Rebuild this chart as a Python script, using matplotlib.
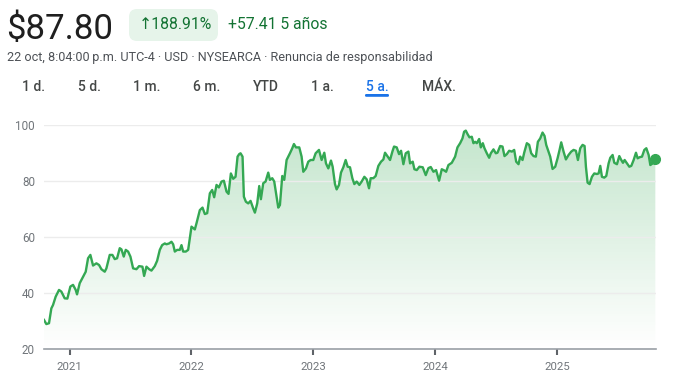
import numpy as np
import pandas as pd
import matplotlib
matplotlib.use("Agg")
import matplotlib.pyplot as plt
from matplotlib.patches import FancyBboxPatch, Polygon
from matplotlib.colors import LinearSegmentedColormap
from matplotlib.transforms import IdentityTransform
import matplotlib.dates as mdates

# ---------------- data ----------------
days_since_2021 = [
    -77, -70, -62, -55, -50, -42, -32, -25, -15, -7,
    2, 10, 18, 22, 30, 40, 48, 55, 62, 70,
    80, 88, 95, 105, 110, 120, 128, 135, 142, 150,
    155, 162, 168, 175, 182, 190, 200, 208, 218, 223,
    230, 238, 245, 255, 262, 270, 277, 285, 290, 298,
    305, 310, 315, 322, 330, 335, 340, 348, 355, 365,
    375, 380, 390, 398, 405, 412, 420, 427, 433, 440,
    447, 455, 462, 470, 476, 483, 490, 497, 503, 508,
    512, 518, 522, 528, 535, 542, 550, 555, 562, 568,
    573, 580, 587, 595, 600, 607, 613, 620, 625, 630,
    637, 643, 650, 660, 667, 672, 678, 688, 695, 700,
    708, 715, 722, 730, 737, 747, 755, 763, 768, 775,
    783, 788, 795, 800, 807, 813, 820, 827, 833, 840,
    847, 853, 860, 868, 875, 883, 890, 897, 902, 910,
    917, 925, 933, 940, 945, 953, 960, 967, 972, 980,
    987, 993, 1000, 1007, 1015, 1020, 1028, 1033, 1040, 1048,
    1058, 1067, 1075, 1082, 1090, 1098, 1107, 1115, 1122, 1128,
    1135, 1145, 1155, 1162, 1170, 1177, 1182, 1187, 1192, 1198,
    1205, 1210, 1215, 1220, 1227, 1232, 1238, 1243, 1250, 1257,
    1262, 1270, 1277, 1282, 1290, 1297, 1303, 1310, 1317, 1325,
    1332, 1338, 1345, 1350, 1357, 1362, 1370, 1377, 1383, 1390,
    1397, 1403, 1410, 1417, 1423, 1428, 1435, 1440, 1447, 1455,
    1462, 1468, 1473, 1480, 1487, 1495, 1503, 1510, 1517, 1523,
    1530, 1537, 1543, 1547, 1552, 1558, 1565, 1572, 1580, 1585,
    1590, 1595, 1602, 1608, 1615, 1620, 1627, 1632, 1640, 1647,
    1652, 1658, 1663, 1670, 1677, 1683, 1690, 1697, 1702, 1708,
    1715, 1722, 1728, 1735, 1740, 1747, 1755,
]
prices = [
    30.39, 28.9, 29.2, 34.5, 35.7, 38.7, 41.1, 40.5, 38.1, 38.0,
    42.3, 42.9, 41.1, 39.5, 43.5, 45.8, 47.6, 52.4, 53.6, 49.8,
    50.6, 50.0, 48.5, 47.6, 48.8, 53.6, 53.6, 52.1, 52.4, 56.0,
    55.6, 53.0, 55.4, 54.8, 53.0, 48.8, 48.5, 49.6, 49.4, 46.1,
    49.4, 48.5, 48.0, 49.6, 51.5, 55.4, 57.1, 57.7, 57.4, 57.7,
    58.3, 57.4, 54.8, 55.4, 55.4, 57.1, 54.8, 54.8, 55.4, 63.7,
    62.7, 64.9, 69.6, 70.5, 68.2, 68.5, 75.6, 76.8, 74.2, 78.6,
    77.7, 79.8, 80.1, 76.2, 75.4, 82.7, 80.8, 81.5, 88.7, 89.6,
    89.9, 88.7, 74.4, 72.6, 72.0, 72.9, 70.2, 68.7, 72.0, 78.2,
    73.5, 79.2, 79.8, 83.0, 80.4, 81.0, 79.8, 74.4, 70.5, 71.4,
    81.8, 80.4, 87.5, 89.9, 91.7, 93.2, 92.0, 92.0, 88.7, 83.3,
    84.5, 86.9, 87.5, 87.5, 89.9, 91.1, 87.5, 90.1, 86.3, 84.5,
    87.3, 85.1, 78.9, 77.0, 78.6, 83.0, 84.9, 87.5, 85.1, 84.9,
    81.0, 78.9, 79.8, 78.6, 79.8, 81.5, 80.6, 77.4, 81.0, 81.0,
    81.8, 85.4, 86.9, 87.7, 90.1, 88.7, 87.5, 90.5, 92.3, 92.0,
    89.6, 90.8, 86.0, 89.9, 90.5, 86.3, 86.9, 84.2, 83.9, 85.1,
    84.9, 82.1, 84.6, 85.0, 83.3, 83.9, 80.1, 84.2, 83.8, 83.3,
    85.7, 86.5, 88.7, 92.0, 93.5, 95.2, 97.6, 98.0, 96.8, 95.6,
    95.8, 93.5, 94.0, 93.5, 95.0, 92.0, 93.5, 91.7, 89.9, 88.3,
    89.9, 91.3, 89.9, 90.1, 92.5, 92.3, 88.9, 89.6, 90.8, 90.5,
    91.1, 86.9, 86.0, 88.7, 87.5, 90.1, 93.5, 92.9, 89.9, 88.9,
    88.7, 94.0, 95.2, 97.3, 96.1, 92.9, 90.5, 88.7, 84.3, 85.1,
    88.1, 91.1, 93.8, 90.5, 87.7, 89.3, 90.5, 91.1, 90.8, 87.5,
    91.7, 92.9, 92.5, 85.1, 79.4, 78.9, 81.5, 82.7, 82.5, 82.7,
    85.4, 81.5, 81.2, 81.8, 86.3, 88.3, 89.3, 86.5, 86.0, 88.9,
    87.7, 86.5, 87.5, 86.3, 85.1, 85.4, 87.5, 90.1, 88.1, 88.5,
    88.7, 91.1, 91.7, 89.3, 85.7, 86.3, 87.80,
]
y_ticks = [20, 40, 60, 80, 100]
x_tick_years = ["2021", "2022", "2023", "2024", "2025"]
price_text = "$87.80"
change_pct_text = "\u2191188.91%"
change_abs_text = "+57.41 5 años"
subtitle_text = "22 oct, 8:04:00\u2009p.m. UTC-4 · USD · NYSEARCA · Renuncia de responsabilidad"
tabs = ["1 d.", "5 d.", "1 m.", "6 m.", "YTD", "1 a.", "5 a.", "MÁX."]
active_tab = "5 a."

assert len(days_since_2021) == len(prices)

base = pd.Timestamp("2021-01-01")
dates = base + pd.to_timedelta(days_since_2021, unit="D")
xnum = mdates.date2num(dates)

# ---------------- figure ----------------
W, H = 674, 385
plt.rcParams["font.family"] = ["Roboto", "DejaVu Sans"]
fig = plt.figure(figsize=(W / 100, H / 100), dpi=100)
fig.patch.set_facecolor("white")

GREEN = "#34a853"
DKGREEN = "#137333"

def ftext(x, y, s, **kw):
    return fig.text(x / W, 1 - y / H, s, **kw)

# Header
ftext(6, 39.5, price_text, fontsize=25, color="#1f1f1f", va="baseline", ha="left")
pill = FancyBboxPatch((129, H - 41), 89, 32, boxstyle="round,pad=0,rounding_size=8",
                      transform=IdentityTransform(), facecolor="#e6f4ea", edgecolor="none")
fig.add_artist(pill)
ftext(175.5, 29.3, change_pct_text, fontsize=11.3, color=DKGREEN, va="baseline", ha="center",
      family=["Roboto", "DejaVu Sans"])
ftext(228, 29.3, change_abs_text, fontsize=11.3, color=DKGREEN, va="baseline", ha="left")
ftext(7, 61.5, subtitle_text, fontsize=9.1, color="#4d5156", va="baseline", ha="left",
      family=["Roboto", "DejaVu Sans"])

tab_centers = [34, 89.5, 146.5, 206.5, 266, 322, 377, 439]
for t, cx in zip(tabs, tab_centers):
    col = "#1a73e8" if t == active_tab else "#444746"
    ftext(cx, 90.7, t, fontsize=10, color=col, va="baseline", ha="center", fontweight="medium")
    if t == active_tab:
        ul = FancyBboxPatch((cx - 12, H - 96.8), 24, 2.8, boxstyle="round,pad=0,rounding_size=1.3",
                            transform=IdentityTransform(), facecolor="#1a73e8", edgecolor="none")
        fig.add_artist(ul)

# Chart axes
L, R, T, B = 44, 656, 125, 349
ax = fig.add_axes([L / W, (H - B) / H, (R - L) / W, (B - T) / H])
ax.set_facecolor("none")
xmin = mdates.date2num(base + pd.Timedelta(days=-77))
xmax = mdates.date2num(base + pd.Timedelta(days=1757))
ax.set_xlim(xmin, xmax)
ax.set_ylim(20, 100)

# gridlines
for v in y_ticks[1:]:
    ax.axhline(v, color="#ececec", lw=1.0, zorder=2)

# gradient fill
cmap = LinearSegmentedColormap.from_list(
    "g", [(0.204, 0.659, 0.325, 0.0), (0.204, 0.659, 0.325, 0.30)])
grad = np.linspace(0, 1, 256).reshape(-1, 1)
im = ax.imshow(grad, extent=[xmin, xmax, 20, 100], origin="lower", aspect="auto",
               cmap=cmap, zorder=1, interpolation="bilinear")
verts = [(xnum[0], 20)] + list(zip(xnum, prices)) + [(xnum[-1], 20)]
poly = Polygon(verts, closed=True, transform=ax.transData, facecolor="none", edgecolor="none")
ax.add_patch(poly)
im.set_clip_path(poly)

ax.plot(xnum, prices, color=GREEN, lw=1.7, zorder=3, solid_joinstyle="round")
ax.plot([xnum[-1]], [prices[-1]], "o", color=GREEN, ms=7, zorder=4, clip_on=False)

for s in ["top", "right", "left"]:
    ax.spines[s].set_visible(False)
ax.spines["bottom"].set_color("#9aa0a6")
ax.spines["bottom"].set_linewidth(1.2)
ax.spines["bottom"].set_zorder(5)

ax.set_yticks(y_ticks)
ax.set_yticklabels([str(v) for v in y_ticks])
ax.tick_params(axis="y", length=0, pad=6.5, labelsize=8.4, labelcolor="#70757a")

xt = [mdates.date2num(pd.Timestamp(y + "-01-01")) for y in x_tick_years]
ax.set_xticks(xt)
ax.set_xticklabels(x_tick_years)
ax.tick_params(axis="x", direction="out", length=4.5, width=1.5, color="#5f6368",
               pad=4.5, labelsize=8.2, labelcolor="#70757a")

fig.savefig("out.png", dpi=100, facecolor="white")
